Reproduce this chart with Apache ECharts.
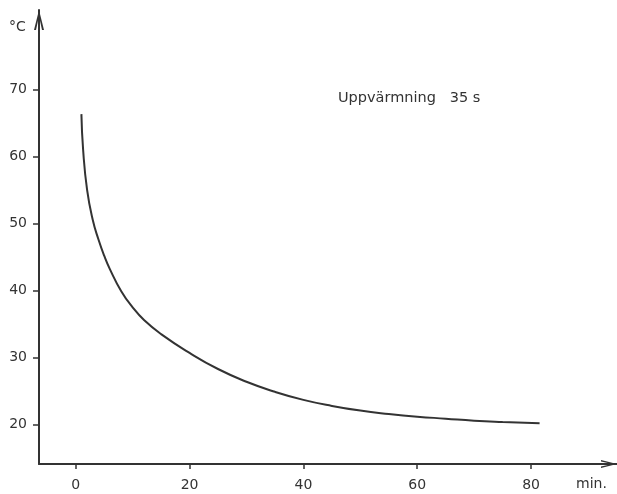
<!DOCTYPE html>
<html>
<head>
<meta charset="utf-8">
<script src="https://cdn.jsdelivr.net/npm/echarts@6/dist/echarts.min.js"></script>
<style>
  html, body { margin: 0; padding: 0; background: #fff; }
  #chart { width: 617px; height: 494px; }
</style>
</head>
<body>
<div id="chart"></div>
<script>
// Cooling curve after heating: time (min) vs temperature (°C)
const timeMin = [1, 1.3, 2, 3, 4, 5, 6, 8, 10, 12, 15, 20, 25, 30, 35, 40, 45, 50, 55, 60, 65, 70, 75, 81.5];
const tempC   = [66.3, 61, 55, 50.5, 47.6, 45.2, 43.2, 39.9, 37.5, 35.6, 33.5, 30.7, 28.3, 26.4, 24.9, 23.7, 22.8, 22.1, 21.6, 21.2, 20.9, 20.6, 20.4, 20.2];
const xTicks = [0, 20, 40, 60, 80];
const yTicks = [20, 30, 40, 50, 60, 70];
const annotation = 'Uppvärmning   35 s';
const xUnit = 'min.';
const yUnit = '°C';

const ink = '#333';
const labelFont = { color: '#333', fontSize: 14, fontFamily: 'DejaVu Sans' };
// open chevron arrowhead, tip pointing up in symbol space
const chevron = 'path://M5,0 L10,20 L8,20 L5,6 L2,20 L0,20 Z';

const chart = echarts.init(document.getElementById('chart'), null, { renderer: 'canvas' });
chart.setOption({
  animation: false,
  backgroundColor: '#fff',
  grid: { left: 39, right: 0, top: 10, bottom: 30 },
  xAxis: {
    type: 'value', min: -6.45, max: 95.1,
    axisLine: { onZero: false, symbol: ['none', chevron], symbolSize: [14, 16], symbolOffset: [0, -8],
                lineStyle: { color: ink, width: 2 } },
    axisTick: { show: true, inside: false, length: 5, customValues: xTicks, lineStyle: { color: ink, width: 1.5 } },
    axisLabel: { customValues: xTicks, margin: 14, ...labelFont },
    splitLine: { show: false }
  },
  yAxis: {
    type: 'value', min: 14.14, max: 81.82,
    axisLine: { show: true, onZero: false, symbol: ['none', chevron], symbolSize: [11, 20], symbolOffset: [0, -10],
                lineStyle: { color: ink, width: 2 } },
    axisTick: { show: true, inside: false, length: 6, customValues: yTicks, lineStyle: { color: ink, width: 1.5 } },
    axisLabel: { customValues: yTicks, margin: 12, ...labelFont },
    splitLine: { show: false }
  },
  graphic: [
    { type: 'text', left: 338, top: 91, style: { text: annotation, fill: '#333', font: '14.5px "DejaVu Sans"' } },
    { type: 'text', left: 576, top: 477, style: { text: xUnit, fill: '#333', font: '14px "DejaVu Sans"' } },
    { type: 'text', left: 9, top: 20, style: { text: yUnit, fill: '#333', font: '14px "DejaVu Sans"' } }
  ],
  series: [{
    type: 'line',
    data: timeMin.map((t, i) => [t, tempC[i]]),
    smooth: 0.5,
    showSymbol: false,
    lineStyle: { color: ink, width: 2 }
  }]
});
</script>
</body>
</html>
